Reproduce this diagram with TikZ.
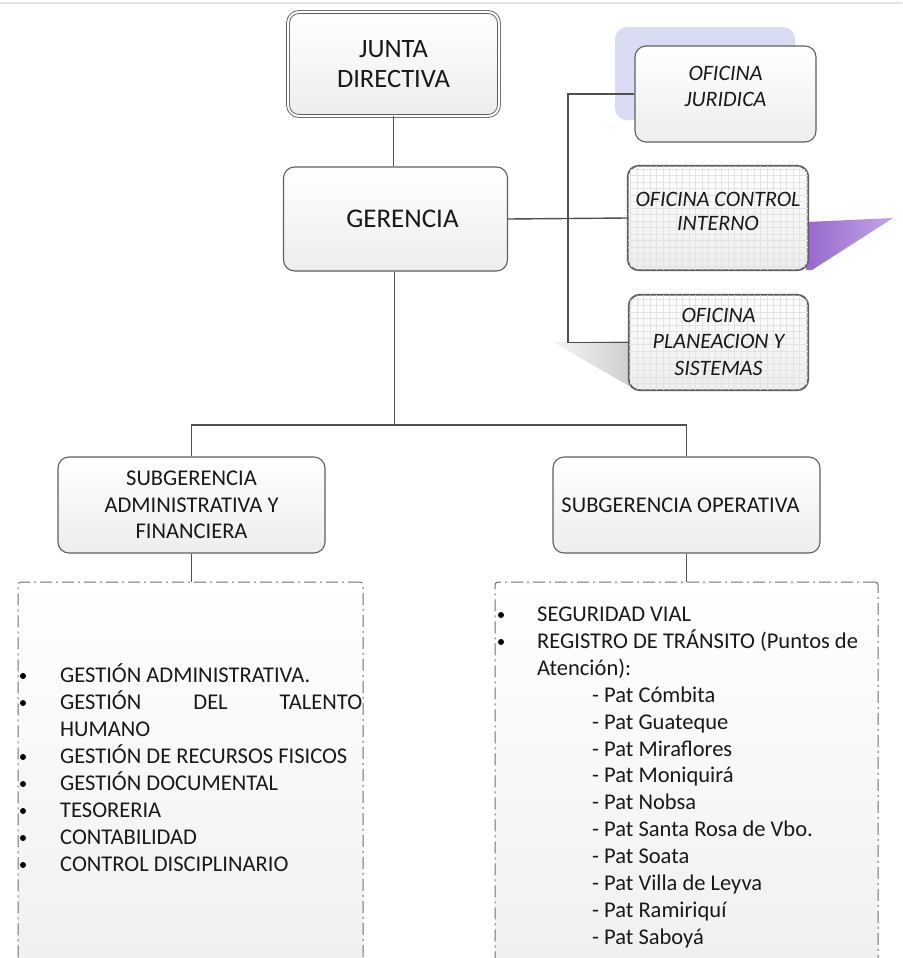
\documentclass[tikz,border=0pt]{standalone}
\usepackage{fontspec}
\setmainfont{Carlito}
\definecolor{boxgray}{RGB}{95,95,95}
\definecolor{linegray}{RGB}{80,80,80}
\definecolor{txtgray}{RGB}{25,25,25}
\definecolor{dashgray}{RGB}{110,110,110}
\definecolor{shblue}{RGB}{217,220,242}
\definecolor{shpurA}{RGB}{150,105,205}
\definecolor{shpurB}{RGB}{195,165,232}
\begin{document}
\begin{tikzpicture}[x=1pt,y=-1pt,
  box/.style={draw=boxgray, line width=1.1pt, rounded corners=11pt, top color=white, bottom color=gray!14, inner sep=0pt, font=\fontsize{22.5}{26.5}\selectfont, text=txtgray, align=center},
  conn/.style={draw=linegray, line width=1.4pt},
  ofi/.style={font=\fontsize{22}{26.5}\selectfont\itshape, align=center, text=txtgray, inner sep=0pt},
  lst/.style={font=\fontsize{22.5}{24}\selectfont, text=txtgray, anchor=base west, inner sep=0pt},
  dbox/.style={draw=dashgray, line width=1pt, dash pattern=on 12pt off 4pt on 2pt off 4pt, top color=white, bottom color=gray!13, rounded corners=3pt, inner sep=0pt},
  bul/.style={circle, fill=black, inner sep=0pt, minimum size=6pt},
  gridln/.style={draw=gray!22, line width=0.35pt}
]
\useasboundingbox (0,0) rectangle (902,958);
\draw[gray!22, line width=2pt] (0,3) -- (902,3);

% shadows
\fill[shblue, rounded corners=12pt] (615,27) rectangle (795,120);
\shade[left color=shpurA, right color=shpurB] (806,222) -- (893,218) -- (812,270) -- (806,270) -- cycle;
\shade[left color=gray!8, right color=gray!38] (553,342) -- (629,341) -- (629,386) -- cycle;

% main boxes
\node[box, line width=0.9pt, double, double distance=2pt, minimum width=211pt, minimum height=104pt, font=\fontsize{26.5}{30}\selectfont] (junta) at (393.5,64) {JUNTA\\DIRECTIVA};
\node[box, minimum width=224pt, minimum height=104pt, font=\fontsize{27}{30}\selectfont] (ger) at (395.5,219) {\hspace*{14pt}GERENCIA};

\node[box, minimum width=181pt, minimum height=96pt] (jur) at (725.5,94) {};
\node[box, minimum width=180pt, minimum height=104pt] (ctl) at (718,218) {};
\node[box, minimum width=179pt, minimum height=95pt] (pla) at (718.5,342.5) {};

% grid patterns
\begin{scope}
\clip[rounded corners=11pt] (ctl.south west) rectangle (ctl.north east);
\draw[gridln, step=6.5pt] (ctl.south west) grid (ctl.north east);
\end{scope}
\draw[draw=boxgray, line width=1.1pt, rounded corners=11pt] (ctl.south west) rectangle (ctl.north east);
\begin{scope}
\clip[rounded corners=11pt] (pla.south west) rectangle (pla.north east);
\draw[gridln, step=6.5pt] (pla.south west) grid (pla.north east);
\end{scope}
\draw[draw=boxgray, line width=1.1pt, rounded corners=11pt] (pla.south west) rectangle (pla.north east);

\node[ofi] (jurt) at (725.5,86.5) {OFICINA\\JURIDICA};
\node[ofi, font=\fontsize{22}{24}\selectfont\itshape] (ctlt) at (718,211.5) {OFICINA CONTROL\\INTERNO};
\node[ofi] (plat) at (718.5,341.5) {OFICINA\\PLANEACION Y\\SISTEMAS};

\node[box, minimum width=267pt, minimum height=96pt] (sa) at (191.5,505) {SUBGERENCIA\\ADMINISTRATIVA Y\\FINANCIERA};
\node[box, minimum width=267pt, minimum height=96pt] (so) at (686.5,505) {SUBGERENCIA OPERATIVA\hspace*{12pt}};

\node[dbox, minimum width=345pt, minimum height=418pt] (la) at (190.5,791) {};
\node[dbox, minimum width=383pt, minimum height=418pt] (lo) at (686.5,791) {};

% connectors
\coordinate (bus) at (568,0);
\coordinate (hub) at (394.5,425);
\draw[conn] (junta.south) -- (junta.south |- ger.north);
\draw[conn] (jur.west) -| (bus |- pla.west) -- (pla.west);
\draw[conn] (ger.east) -- (ctl.west);
\draw[conn] (ger.south -| hub) -- (hub);
\draw[conn] (sa.north) |- (hub) -| (so.north);
\draw[conn] (sa.south) -- (sa.south |- la.north);
\draw[conn] (so.south) -- (so.south |- lo.north);

% left list
\node[lst] (a1) at (60,682.5) {GESTIÓN ADMINISTRATIVA.};
\node[lst] (a2) at (60,709.5) {\makebox[302pt][s]{GESTIÓN\hfill DEL\hfill TALENTO}};
\node[lst] (a3) at (60,736.5) {HUMANO};
\node[lst] (a4) at (60,763.5) {GESTIÓN DE RECURSOS FISICOS};
\node[lst] (a5) at (60,790.5) {GESTIÓN DOCUMENTAL};
\node[lst] (a6) at (60,817.5) {TESORERIA};
\node[lst] (a7) at (60,844.5) {CONTABILIDAD};
\node[lst] (a8) at (60,871.5) {CONTROL DISCIPLINARIO};
\foreach \y [count=\i] in {676,703,757,784,811,838,865}
  \node[bul] (ba\i) at (23,\y) {};

% right list
\node[lst] (b1) at (537,621.5) {SEGURIDAD VIAL};
\node[lst] (b2) at (537,648.4) {REGISTRO DE TRÁNSITO (Puntos de};
\node[lst] (b3) at (537,675.3) {Atención):};
\foreach \t [count=\i from 4] in {Cómbita,Guateque,Miraflores,Moniquirá,Nobsa,Santa Rosa de Vbo.,Soata,Villa de Leyva,Ramiriquí,Saboyá}
  \node[lst] (b\i) at (592,{621.5+26.9*(\i-1)}) {- Pat \t};
\node[bul] (bb1) at (501,615) {};
\node[bul] (bb2) at (501,642) {};
\end{tikzpicture}
\end{document}
